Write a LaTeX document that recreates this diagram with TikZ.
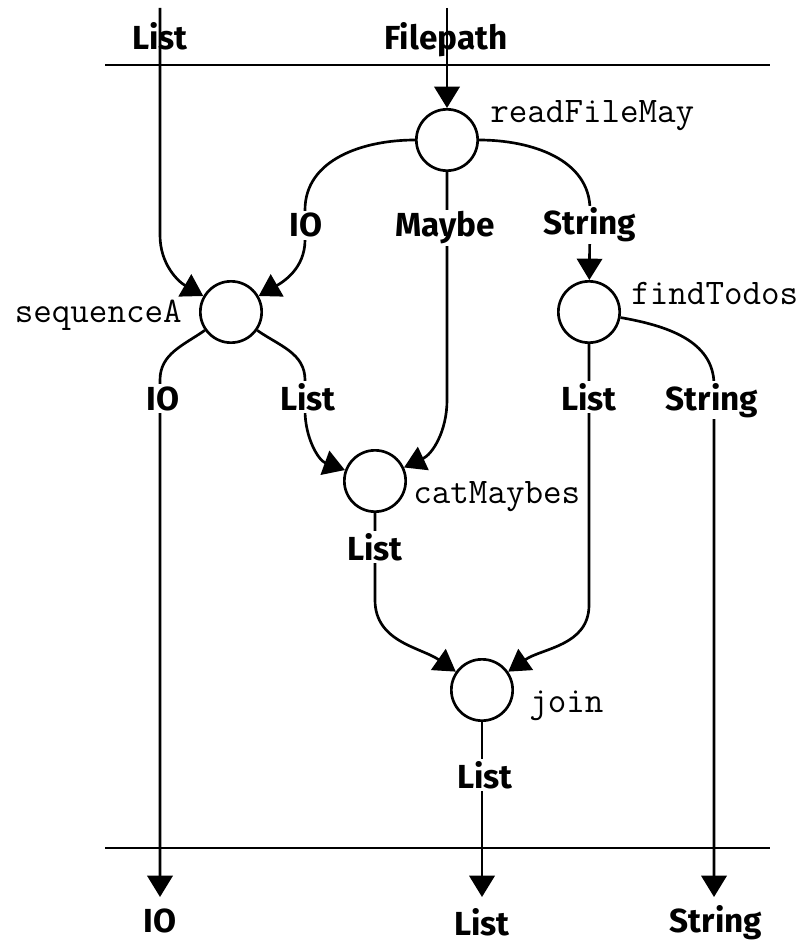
\documentclass[tikz,border=0pt]{standalone}
\usepackage{fontspec}
\newfontfamily\typefont{Fira Sans}
\usetikzlibrary{arrows.meta}

\begin{document}
\begin{tikzpicture}
  [
    x = 0.75pt, y = 0.75pt,
    line width = 2pt,
    > = {Triangle[length = 16pt, width = 19pt]},
    fn/.style    = {draw, circle, inner sep = 0pt, minimum size = 46pt},
    fname/.style = {font = \fontsize{27}{27}\selectfont\ttfamily, inner sep = 0pt},
    ty/.style    = {font = \typefont\bfseries\fontsize{25}{25}\selectfont,
                    inner sep = 0pt, anchor = base},
    tylbl/.style = {ty, fill = white, inner sep = 1.5pt},
  ]

  \useasboundingbox (0,0) rectangle (803,-944);

  \draw (105,-65) -- (770,-65);
  \draw (105,-848) -- (770,-848);

  \node[fn] (readFileMay) at (447,-140) {};
  \node[fn] (sequenceA)   at (231,-312) {};
  \node[fn] (findTodos)   at (589,-312) {};
  \node[fn] (catMaybes)   at (375,-481) {};
  \node[fn] (join)        at (482,-690) {};

  \foreach \f/\a/\x/\y in {readFileMay/base west/489/123,
                           sequenceA/base east/183/323,
                           findTodos/base west/630/305,
                           catMaybes/base west/412/503,
                           join/base west/528/712}
    \node[fname, anchor = \a] (\f-name) at (\x,-\y) {\f};

  \coordinate (in-list)    at (160,-8);
  \coordinate (in-path)    at (447,-8);
  \coordinate (out-io)     at (160,-897);
  \coordinate (out-list)   at (482,-897);
  \coordinate (out-string) at (714,-897);

  \node[ty] (in-list-t)    at (160,-50)  {List};
  \node[ty] (in-path-t)    at (446,-50)  {Filepath};
  \node[ty] (out-io-t)     at (160,-932) {IO};
  \node[ty] (out-list-t)   at (482,-935) {List};
  \node[ty] (out-string-t) at (716,-932) {String};

  \draw[->] (in-list) -- (160,-235) to[out=-90, in=150] (sequenceA);
  \draw[->] (in-path) -- (readFileMay);
  \draw[->] (readFileMay) to[out=180, in=90] (305,-210) -- (305,-240)
    to[out=-90, in=30] (sequenceA);
  \draw[->] (readFileMay) -- (447,-400) to[out=-90, in=25] (catMaybes);
  \draw[->] (readFileMay) to[out=0, in=90] (590,-210) -- (findTodos);

  \draw[->] (sequenceA) to[out=215, in=90] (160,-380) -- (out-io);
  \draw[->] (sequenceA) to[out=-35, in=90] (305,-380) -- (305,-410)
    to[out=-90, in=160] (catMaybes);

  \draw[->] (catMaybes) -- (375,-600) to[out=-90, in=145] (join);
  \draw[->] (findTodos) -- (589,-605) to[out=-90, in=35] (join);
  \draw[->] (findTodos) to[out=-10, in=90] (714,-385) -- (out-string);
  \draw[->] (join) -- (out-list);

  \foreach \x/\y/\t [count=\i] in {306/237/IO, 445/237/Maybe, 590/235/String,
                                  163/410/IO, 308/410/List, 589/410/List,
                                  712/410/String, 375/560/List, 485/788/List}
    \node[tylbl] (edge-\i) at (\x,-\y) {\t};

\end{tikzpicture}
\end{document}
